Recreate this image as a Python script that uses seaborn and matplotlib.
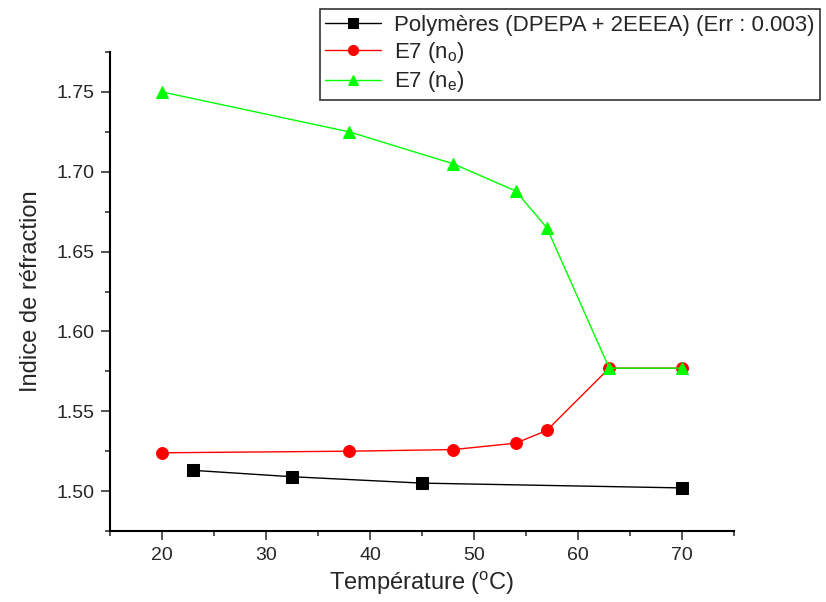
# Refractive index vs temperature: polymer and E7 (no, ne)
import numpy as np
import pandas as pd
import matplotlib
matplotlib.use('Agg')
import matplotlib.pyplot as plt
import seaborn as sns
from matplotlib.ticker import MultipleLocator

# Data
poly_temp = [23, 32.5, 45, 70]
poly_index = [1.513, 1.509, 1.505, 1.502]

e7_temp = [20, 38, 48, 54, 57, 63, 70]
e7_no = [1.524, 1.525, 1.526, 1.530, 1.538, 1.577, 1.577]
e7_ne = [1.750, 1.725, 1.705, 1.688, 1.665, 1.577, 1.577]

labels = ['Polymères (DPEPA + 2EEEA) (Err : 0.003)', 'E7 (n$_o$)', 'E7 (n$_e$)']
y_ticks = [1.50, 1.55, 1.60, 1.65, 1.70, 1.75]

sns.set_style('ticks')
plt.rcParams['font.family'] = ['Liberation Sans', 'DejaVu Sans']
plt.rcParams['mathtext.default'] = 'regular'

fig = plt.figure(figsize=(8.26, 6.02), dpi=100)
ax = fig.add_axes([0.1332, 0.1179, 0.7554, 0.7957])

sns.lineplot(x=poly_temp, y=poly_index, ax=ax, color='black', marker='s',
             markersize=8, markeredgecolor='black', linewidth=1, label=labels[0])
sns.lineplot(x=e7_temp, y=e7_no, ax=ax, color='#ff0000', marker='o',
             markersize=8.5, markeredgecolor='#ff0000', linewidth=1, label=labels[1])
sns.lineplot(x=e7_temp, y=e7_ne, ax=ax, color='#00ff00', marker='^',
             markersize=9, markeredgecolor='#00ff00', linewidth=1, label=labels[2])

ax.set_xlim(15, 75)
ax.set_ylim(1.475, 1.775)
ax.xaxis.set_major_locator(MultipleLocator(10))
ax.xaxis.set_minor_locator(MultipleLocator(5))
ax.yaxis.set_minor_locator(MultipleLocator(0.025))
ax.set_yticks(y_ticks)
ax.set_yticklabels([f'{v:.2f}' for v in y_ticks])
ax.tick_params(which='major', length=6.5, width=1.1, labelsize=14,
               direction='out', pad=5)
ax.tick_params(which='minor', length=3.3, width=1.1, direction='out')
sns.despine(ax=ax)
for s in ['left', 'bottom']:
    ax.spines[s].set_linewidth(1.5)
    ax.spines[s].set_color('black')

ax.set_xlabel('Température ($^{o}$C)', fontsize=17, labelpad=4)
ax.set_ylabel('Indice de réfraction', fontsize=17, labelpad=10)

ax.get_legend().remove()
handles, lbls = ax.get_legend_handles_labels()
leg = fig.legend(handles, lbls, loc='upper left', bbox_to_anchor=(0.387, 0.985),
                 fontsize=16, frameon=True, fancybox=False, borderaxespad=0,
                 handlelength=2.5, handletextpad=0.6, labelspacing=0.2,
                 borderpad=0.25, markerscale=0.85)
leg.get_frame().set_edgecolor('black')
leg.get_frame().set_linewidth(1.2)

fig.savefig('out.png', dpi=100)
